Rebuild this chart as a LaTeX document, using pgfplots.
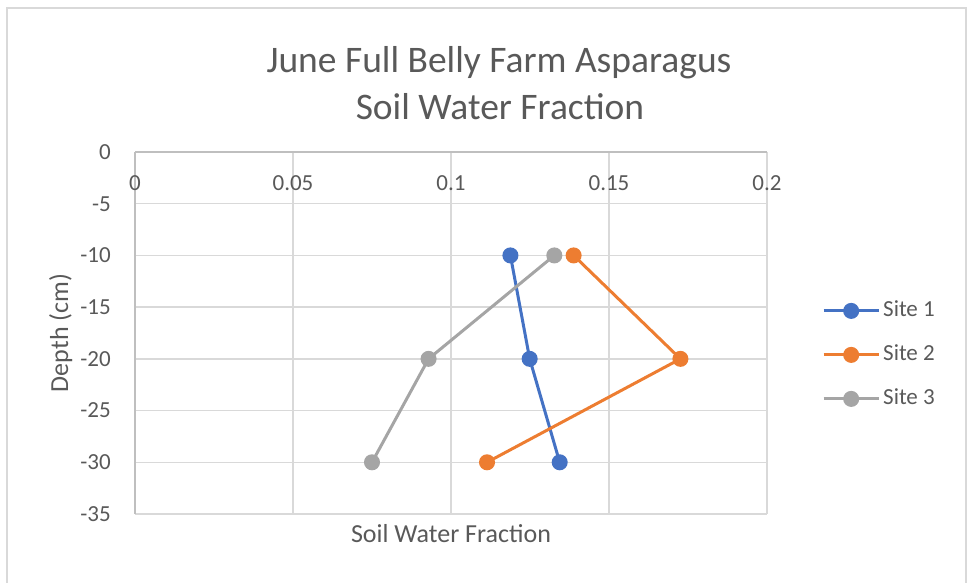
\documentclass[border=0pt]{standalone}
\usepackage{pgfplots}
\pgfplotsset{compat=1.18}
\usepackage{fontspec}
\setmainfont{Carlito}
\definecolor{txt}{HTML}{595959}
\definecolor{gridc}{HTML}{D9D9D9}
\definecolor{axc}{HTML}{BFBFBF}
\definecolor{s1}{HTML}{4472C4}
\definecolor{s2}{HTML}{ED7D31}
\definecolor{s3}{HTML}{A5A5A5}
\begin{document}
\begin{tikzpicture}
\begin{axis}[
  at={(135bp,69bp)}, anchor=south west,
  scale only axis, width=632bp, height=362bp,
  xmin=0, xmax=0.2, ymin=-35, ymax=0,
  xtick={0,0.05,0.1,0.15,0.2},
  xticklabels={0,0.05,0.1,0.15,0.2},
  ytick={0,-5,-10,-15,-20,-25,-30,-35},
  axis x line*=top, axis y line*=left,
  axis line style={draw=axc, line width=1.3bp},
  grid=major,
  major grid style={draw=gridc, line width=1.3bp},
  major tick length=0pt,
  /pgf/number format/assume math mode=true,
  x tick label style={font=\fontsize{23bp}{27bp}\selectfont, text=txt, anchor=center, yshift=-31.5bp},
  y tick label style={font=\fontsize{23bp}{27bp}\selectfont, text=txt, anchor=east, inner sep=0pt, xshift=-24bp},
  every axis x label/.style={at={(axis description cs:0.5,0)}, anchor=base, yshift=-29bp, font=\fontsize{26bp}{30bp}\selectfont, text=txt},
  every axis y label/.style={at={(axis description cs:0,0.5)}, xshift=-67bp, rotate=90, anchor=base, font=\fontsize{26bp}{30bp}\selectfont, text=txt},
  xlabel={Soil Water Fraction},
  ylabel={Depth (cm)},
  clip=false,
  legend style={draw=none, fill=none, at={(rel axis cs:1.087,0.4395)}, anchor=west,
    inner xsep=0pt, inner ysep=0pt, row sep=23bp,
    font=\fontsize{23bp}{27bp}\selectfont, text=txt,
    nodes={inner sep=0pt, text height=16bp, text depth=5bp, anchor=west}},
  legend cell align=left,
  legend image code/.code={\draw[mark repeat=2,mark phase=2,#1] plot coordinates {(0bp,0bp) (27.5bp,0bp) (55bp,0bp)};},
  every axis plot/.append style={line width=3bp, mark=*, mark size=6.5bp, mark options={solid}},
]
\addplot[color=s1] coordinates {(0.1188,-10) (0.1249,-20) (0.1344,-30)};
\addlegendentry{\hspace{3bp}Site 1}
\addplot[color=s2] coordinates {(0.1388,-10) (0.1726,-20) (0.1114,-30)};
\addlegendentry{\hspace{3bp}Site 2}
\addplot[color=s3] coordinates {(0.1327,-10) (0.0929,-20) (0.0750,-30)};
\addlegendentry{\hspace{3bp}Site 3}
\end{axis}
\node[anchor=base, text=txt, font=\fontsize{37.5bp}{44bp}\selectfont] at (499bp,510bp) {June Full Belly Farm Asparagus};
\node[anchor=base, text=txt, font=\fontsize{37.5bp}{44bp}\selectfont] at (500bp,463bp) {Soil Water Fraction};
\draw[gridc, line width=1.5bp] (7bp,0bp) -- (7bp,575bp) -- (966bp,575bp) -- (966bp,0bp);
\pgfresetboundingbox
\useasboundingbox (0,0) rectangle (967bp,583bp);
\end{tikzpicture}
\end{document}
